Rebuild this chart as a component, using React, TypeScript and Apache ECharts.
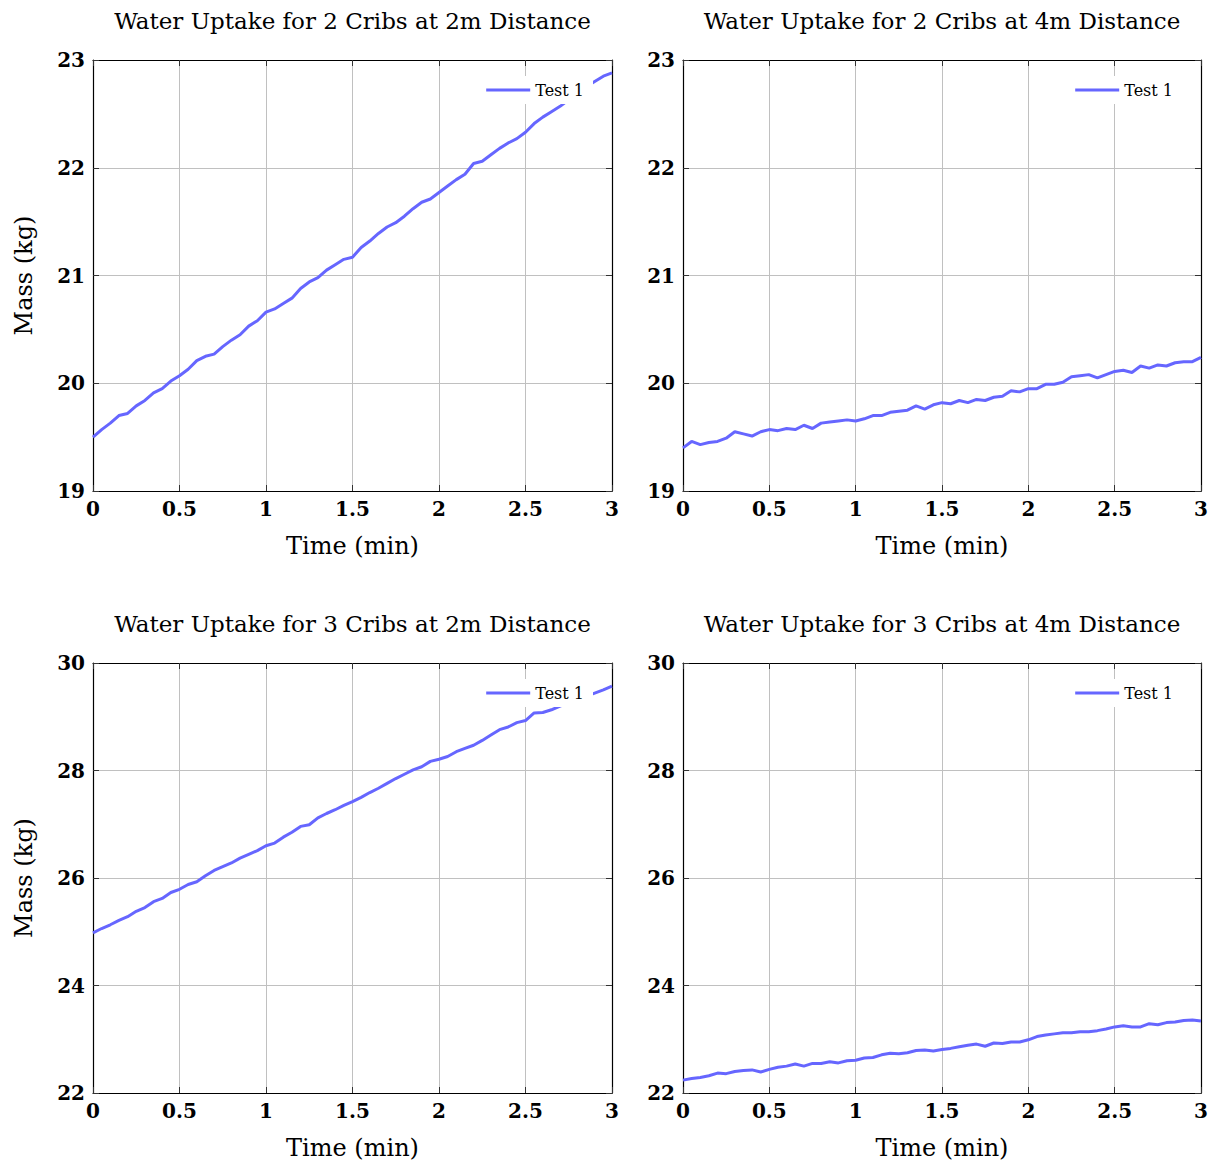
import React, { useEffect, useRef } from "react";
import * as echarts from "echarts";

const TIME = [
  0, 0.05, 0.1, 0.15, 0.2, 0.25, 0.3, 0.35, 0.4, 0.45, 0.5, 0.55, 0.6, 0.65, 0.7, 0.75, 0.8, 0.85, 0.9, 0.95,
  1, 1.05, 1.1, 1.15, 1.2, 1.25, 1.3, 1.35, 1.4, 1.45, 1.5, 1.55, 1.6, 1.65, 1.7, 1.75, 1.8, 1.85, 1.9, 1.95,
  2, 2.05, 2.1, 2.15, 2.2, 2.25, 2.3, 2.35, 2.4, 2.45, 2.5, 2.55, 2.6, 2.65, 2.7, 2.75, 2.8, 2.85, 2.9, 2.95, 3,
];

const CRIBS2_2M = [
  19.5, 19.57, 19.63, 19.7, 19.72, 19.79, 19.84, 19.91, 19.95, 20.02, 20.07, 20.13, 20.21, 20.25, 20.27, 20.34,
  20.4, 20.45, 20.53, 20.58, 20.66, 20.69, 20.74, 20.79, 20.88, 20.94, 20.98, 21.05, 21.1, 21.15, 21.17, 21.26,
  21.32, 21.39, 21.45, 21.49, 21.55, 21.62, 21.68, 21.71, 21.77, 21.83, 21.89, 21.94, 22.04, 22.06, 22.12,
  22.18, 22.23, 22.27, 22.33, 22.41, 22.47, 22.52, 22.57, 22.63, 22.69, 22.75, 22.8, 22.85, 22.88,
];

const CRIBS2_4M = [
  19.4, 19.46, 19.43, 19.45, 19.46, 19.49, 19.55, 19.53, 19.51, 19.55, 19.57, 19.56, 19.58, 19.57, 19.61, 19.58,
  19.63, 19.64, 19.65, 19.66, 19.65, 19.67, 19.7, 19.7, 19.73, 19.74, 19.75, 19.79, 19.76, 19.8, 19.82, 19.81,
  19.84, 19.82, 19.85, 19.84, 19.87, 19.88, 19.93, 19.92, 19.95, 19.95, 19.99, 19.99, 20.01, 20.06, 20.07,
  20.08, 20.05, 20.08, 20.11, 20.12, 20.1, 20.16, 20.14, 20.17, 20.16, 20.19, 20.2, 20.2, 20.24,
];

const CRIBS3_2M = [
  24.98, 25.06, 25.13, 25.21, 25.28, 25.38, 25.45, 25.56, 25.62, 25.73, 25.79, 25.88, 25.93, 26.04, 26.14, 26.21,
  26.28, 26.37, 26.44, 26.51, 26.6, 26.65, 26.76, 26.85, 26.96, 26.99, 27.12, 27.2, 27.27, 27.35, 27.42, 27.5,
  27.59, 27.67, 27.76, 27.85, 27.93, 28.01, 28.07, 28.17, 28.21, 28.26, 28.35, 28.41, 28.47, 28.56, 28.66,
  28.76, 28.81, 28.89, 28.93, 29.07, 29.08, 29.13, 29.2, 29.26, 29.32, 29.38, 29.44, 29.5, 29.57,
];

const CRIBS3_4M = [
  22.24, 22.27, 22.29, 22.32, 22.37, 22.36, 22.4, 22.42, 22.43, 22.39, 22.44, 22.48, 22.5, 22.54, 22.5, 22.55,
  22.55, 22.58, 22.56, 22.6, 22.61, 22.65, 22.66, 22.71, 22.74, 22.73, 22.75, 22.79, 22.8, 22.78, 22.81, 22.83,
  22.86, 22.89, 22.91, 22.87, 22.93, 22.92, 22.95, 22.95, 22.99, 23.05, 23.08, 23.1, 23.12, 23.12, 23.14,
  23.14, 23.16, 23.19, 23.23, 23.25, 23.23, 23.23, 23.29, 23.27, 23.31, 23.32, 23.35, 23.36, 23.34,
];

const TITLES = [
  "Water Uptake for 2 Cribs at 2m Distance",
  "Water Uptake for 2 Cribs at 4m Distance",
  "Water Uptake for 3 Cribs at 2m Distance",
  "Water Uptake for 3 Cribs at 4m Distance",
];
const SERIES_NAME = "Test 1";
const X_LABEL = "Time (min)";
const Y_LABEL = "Mass (kg)";
const X_RANGE = [0, 3, 0.5];
const Y_RANGES = [
  [19, 23, 1],
  [19, 23, 1],
  [22, 30, 2],
  [22, 30, 2],
];
const DATASETS = [CRIBS2_2M, CRIBS2_4M, CRIBS3_2M, CRIBS3_4M];

const FONT = "'DejaVu Serif', serif";
const LINE_COLOR = "#6666ff";

const GRIDS = [
  { left: 93, top: 60, width: 519, height: 431 },
  { left: 683, top: 60, width: 518, height: 431 },
  { left: 93, top: 663, width: 519, height: 430 },
  { left: 683, top: 663, width: 518, height: 430 },
];

export default function App() {
  const ref = useRef<HTMLDivElement>(null);
  useEffect(() => {
    if (!ref.current) return;
    const chart = echarts.init(ref.current, null, { renderer: "svg" });
    const xAxis: any[] = [];
    const yAxis: any[] = [];
    const series: any[] = [];
    const legend: any[] = [];
    const graphic: any[] = [];
    const tick = { show: true, inside: true, length: 6, lineStyle: { color: "#333", width: 1 } };
    const axisLine = { show: true, onZero: false, lineStyle: { color: "#000", width: 1.2 } };
    const split = { show: true, lineStyle: { color: "#c0c0c0", width: 1 } };
    GRIDS.forEach((g, i) => {
      const yr = Y_RANGES[i];
      xAxis.push({
        type: "value", gridIndex: i, position: "bottom", min: X_RANGE[0], max: X_RANGE[1], interval: X_RANGE[2],
        axisLine, axisTick: tick, splitLine: split,
        axisLabel: { color: "#000", fontFamily: FONT, fontSize: 20, fontWeight: "bold", margin: 8 },
        name: X_LABEL, nameLocation: "middle", nameGap: 43,
        nameTextStyle: { color: "#000", fontFamily: FONT, fontSize: 24 },
      });
      xAxis.push({
        type: "value", gridIndex: i, position: "top", min: X_RANGE[0], max: X_RANGE[1], interval: X_RANGE[2],
        axisLine, axisTick: tick, splitLine: { show: false }, axisLabel: { show: false },
      });
      yAxis.push({
        type: "value", gridIndex: i, position: "left", min: yr[0], max: yr[1], interval: yr[2],
        axisLine, axisTick: tick, splitLine: split,
        axisLabel: { color: "#000", fontFamily: FONT, fontSize: 20, fontWeight: "bold", margin: 8 },
        name: i % 2 === 0 ? Y_LABEL : "", nameLocation: "middle", nameGap: 57,
        nameTextStyle: { color: "#000", fontFamily: FONT, fontSize: 24 },
      });
      yAxis.push({
        type: "value", gridIndex: i, position: "right", min: yr[0], max: yr[1], interval: yr[2],
        axisLine, axisTick: tick, splitLine: { show: false }, axisLabel: { show: false },
      });
      series.push({
        type: "line", name: SERIES_NAME, xAxisIndex: i * 2, yAxisIndex: i * 2,
        data: TIME.map((t, k) => [t, DATASETS[i][k]]),
        symbol: "none", showSymbol: false, smooth: false,
        lineStyle: { color: LINE_COLOR, width: 3 }, itemStyle: { color: LINE_COLOR },
      });
      legend.push({
        data: [{ name: SERIES_NAME, icon: "rect" }], right: 1217 - (g.left + g.width) + 19, top: g.top + 16,
        backgroundColor: "#fff", padding: [6, 9, 6, 9], itemWidth: 44, itemHeight: 3, itemGap: 6,
        itemStyle: { color: LINE_COLOR },
        textStyle: { color: "#000", fontFamily: FONT, fontSize: 16 },
        selectedMode: false,
      });
      graphic.push({
        type: "text", x: g.left + g.width / 2, y: g.top - 39,
        style: { text: TITLES[i], fill: "#000", font: `23px ${FONT}`, textAlign: "center", textVerticalAlign: "middle" },
      });
    });
    chart.setOption({
      animation: false,
      backgroundColor: "#fff",
      grid: GRIDS.map((g) => ({ ...g, containLabel: false })),
      xAxis, yAxis, series, legend, graphic,
    });
    return () => chart.dispose();
  }, []);
  return <div ref={ref} style={{ position: "absolute", left: 0, top: 0, width: 1217, height: 1166 }} />;
}
